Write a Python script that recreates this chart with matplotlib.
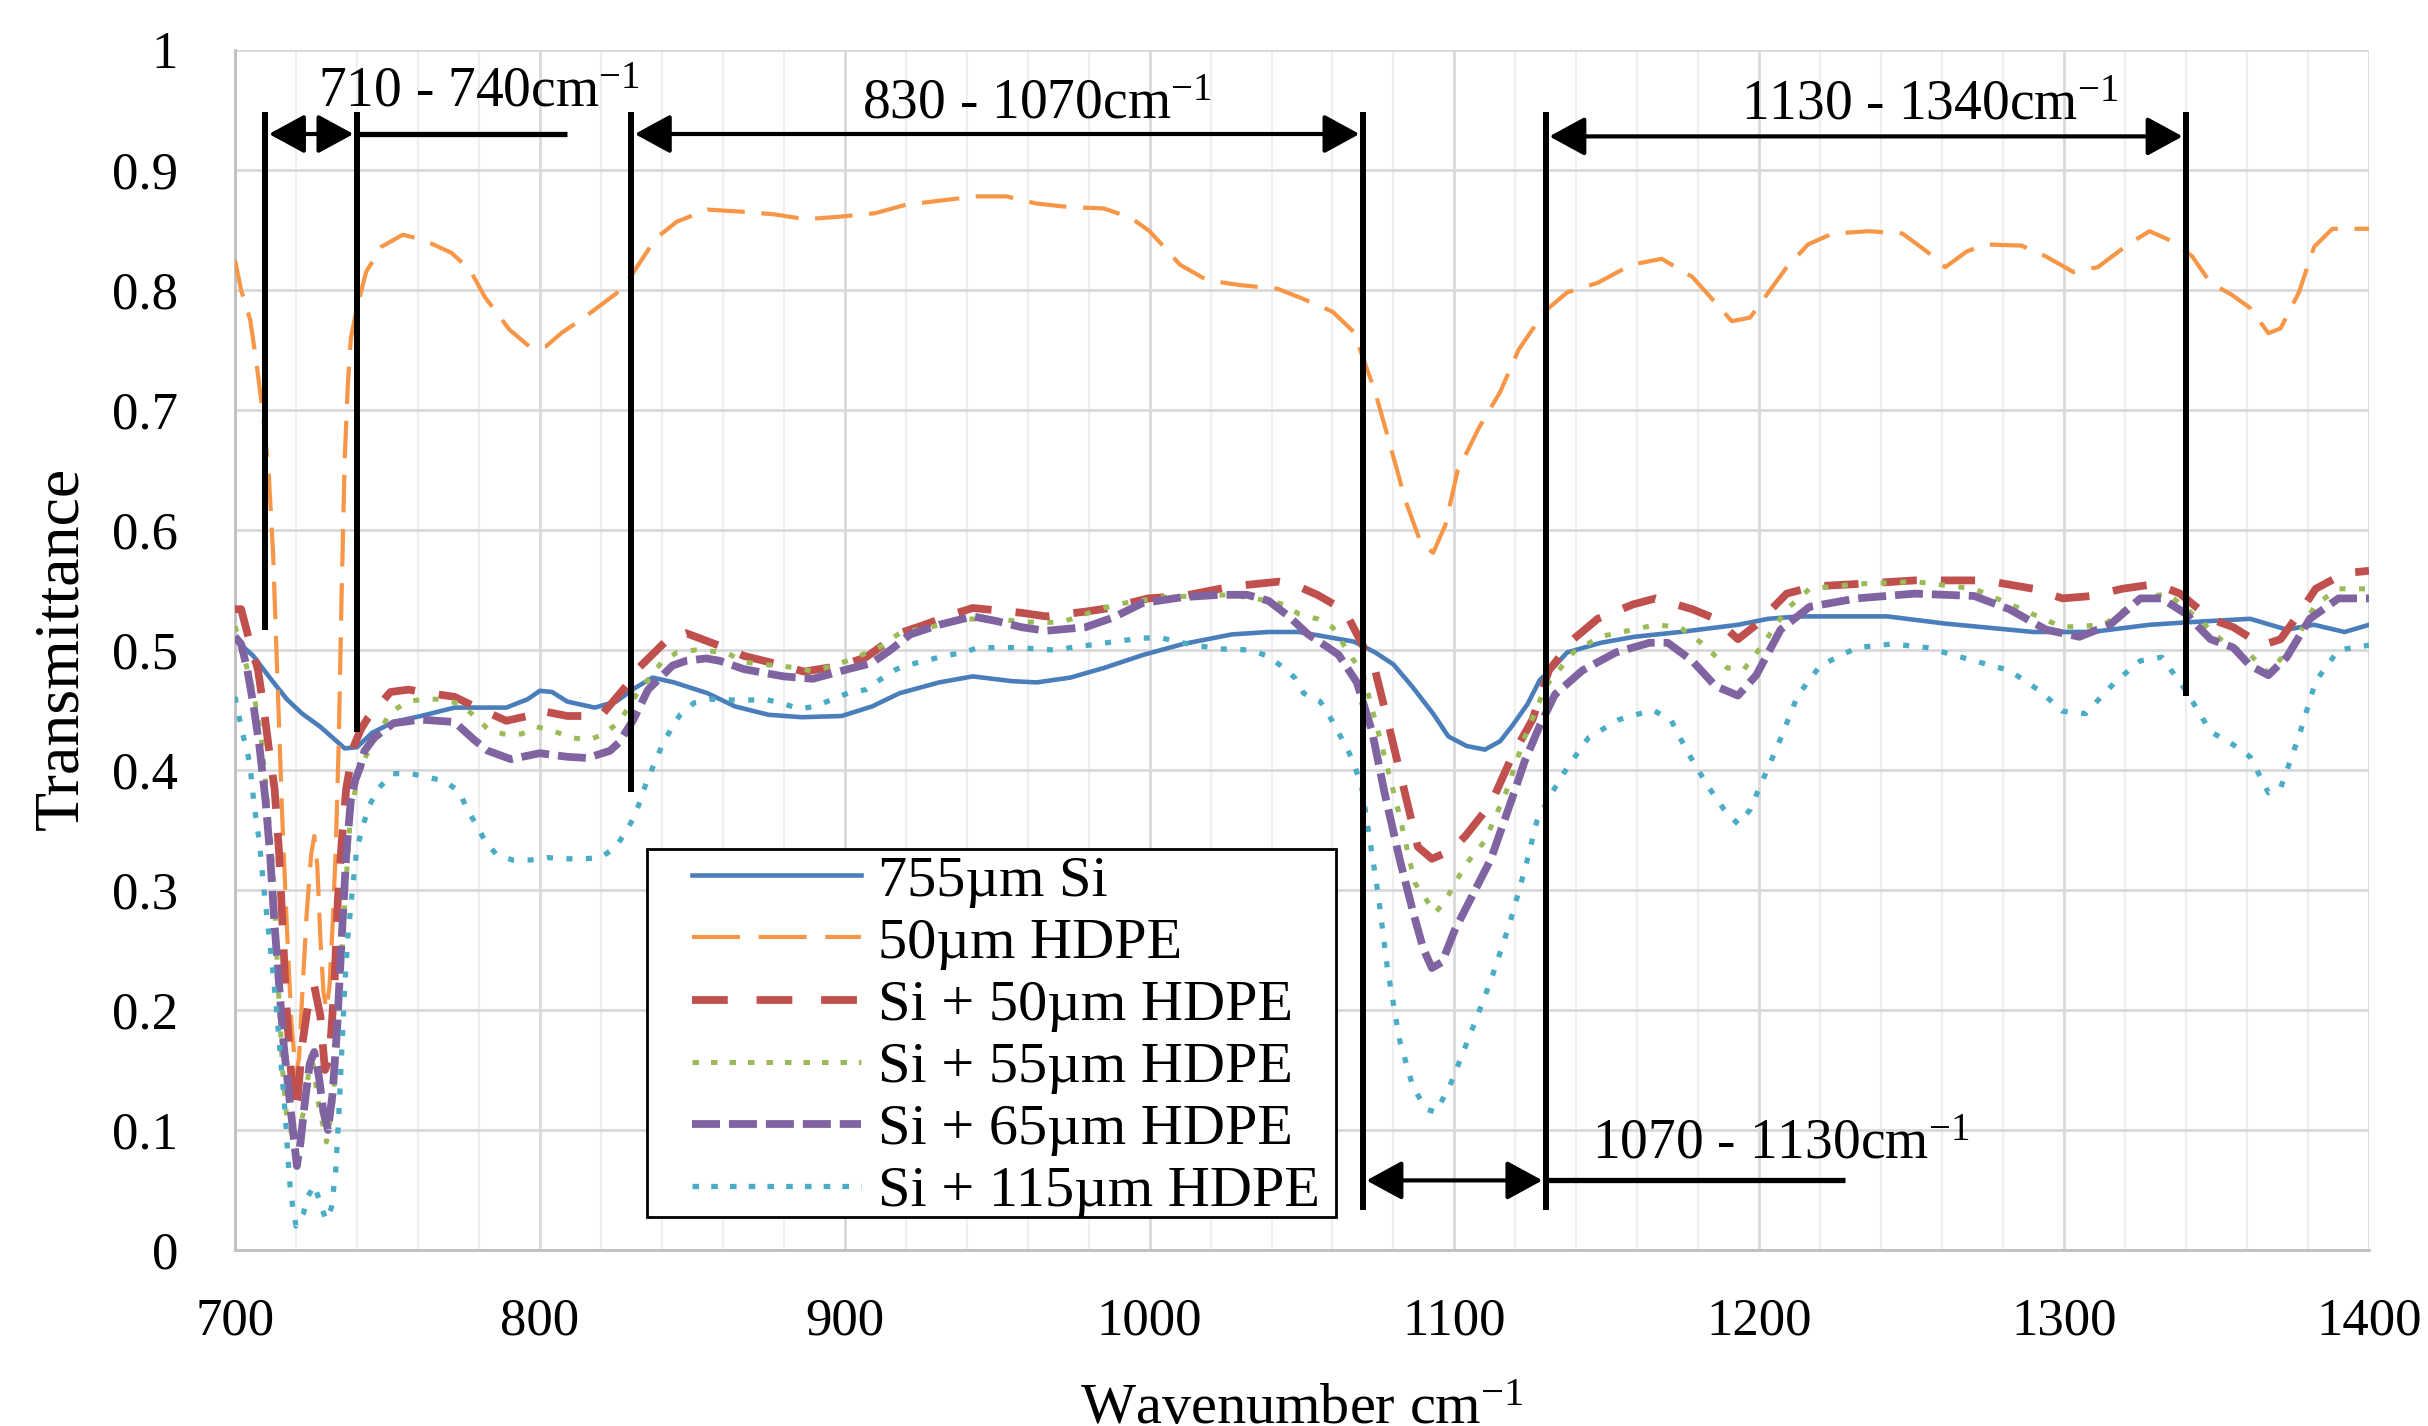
import matplotlib
matplotlib.use("Agg")
import matplotlib.pyplot as plt
from matplotlib.patches import FancyArrowPatch, Rectangle
from matplotlib.lines import Line2D
from matplotlib.ticker import MultipleLocator, FixedLocator

plt.rcParams['font.family'] = ['Liberation Serif', 'DejaVu Serif']
plt.rcParams['mathtext.fontset'] = 'custom'
plt.rcParams['mathtext.rm'] = 'Liberation Serif'
plt.rcParams['mathtext.it'] = 'Liberation Serif:italic'
plt.rcParams['mathtext.bf'] = 'Liberation Serif:bold'

# ---------------- data ----------------
labels = ['755\u00b5m Si', '50\u00b5m HDPE', 'Si + 50\u00b5m HDPE',
          'Si + 55\u00b5m HDPE', 'Si + 65\u00b5m HDPE', 'Si + 115\u00b5m HDPE']

si755_x = [700, 706, 712, 717, 722, 728, 736, 740, 745, 752, 761, 772, 789, 796, 800, 804, 809, 818, 825, 831,
           837, 844, 855, 864, 875, 886, 899, 909, 918, 931, 942, 955, 963, 974, 985, 998, 1011, 1027, 1039, 1049,
           1058, 1067, 1074, 1080, 1086, 1093, 1098, 1104, 1110, 1115, 1119, 1124, 1128, 1133, 1137, 1148, 1159,
           1174, 1193, 1203, 1213, 1242, 1261, 1290, 1309, 1328, 1340, 1361, 1373, 1382, 1392, 1400]
si755_y = [0.509, 0.495, 0.475, 0.459, 0.447, 0.436, 0.418, 0.419, 0.431, 0.440, 0.445, 0.452, 0.452, 0.459,
           0.466, 0.465, 0.457, 0.452, 0.457, 0.468, 0.477, 0.473, 0.464, 0.453, 0.446, 0.444, 0.445, 0.453,
           0.464, 0.473, 0.478, 0.474, 0.473, 0.477, 0.485, 0.496, 0.505, 0.513, 0.515, 0.515, 0.511, 0.507,
           0.498, 0.488, 0.470, 0.447, 0.428, 0.420, 0.417, 0.424, 0.437, 0.455, 0.475, 0.487, 0.498, 0.506,
           0.511, 0.515, 0.521, 0.526, 0.528, 0.528, 0.522, 0.515, 0.515, 0.521, 0.523, 0.526, 0.517, 0.521,
           0.515, 0.521]

hdpe50_x = [700, 702, 705, 707, 709, 711, 712.5, 714, 715.5, 717, 718.5, 720, 721, 722, 723.5, 725, 726, 727,
            728, 729, 730, 731, 732, 733, 734, 735, 736, 737, 738, 740, 743, 748, 755, 760, 765, 771, 777, 782,
            790, 797, 802, 807, 815, 825, 830, 838, 845, 855, 868, 877, 887, 898, 910, 920, 933, 943, 953, 963,
            974, 985, 994, 1000, 1004, 1010, 1019, 1030, 1042, 1050, 1060, 1067, 1074, 1079, 1084, 1089, 1093,
            1097, 1101, 1108, 1115, 1121, 1125, 1130, 1137, 1147, 1158, 1168, 1178, 1184, 1191, 1197, 1203, 1209,
            1216, 1224, 1236, 1247, 1255, 1261, 1268, 1274, 1286, 1294, 1303, 1311, 1321, 1328, 1336, 1342, 1348,
            1355, 1361, 1367, 1371, 1377, 1382, 1388, 1400]
hdpe50_y = [0.825, 0.80, 0.775, 0.74, 0.70, 0.65, 0.58, 0.47, 0.36, 0.27, 0.19, 0.145, 0.16, 0.21, 0.28, 0.33,
            0.345, 0.32, 0.26, 0.215, 0.20, 0.22, 0.27, 0.33, 0.42, 0.55, 0.66, 0.72, 0.76, 0.785, 0.815, 0.836,
            0.846, 0.843, 0.838, 0.831, 0.817, 0.794, 0.767, 0.752, 0.753, 0.764, 0.778, 0.797, 0.812, 0.843,
            0.857, 0.867, 0.865, 0.863, 0.859, 0.861, 0.864, 0.871, 0.875, 0.878, 0.878, 0.872, 0.869, 0.868,
            0.860, 0.849, 0.838, 0.821, 0.808, 0.804, 0.801, 0.793, 0.782, 0.765, 0.715, 0.670, 0.624, 0.589,
            0.581, 0.604, 0.649, 0.685, 0.715, 0.750, 0.765, 0.783, 0.798, 0.806, 0.821, 0.826, 0.811, 0.794,
            0.774, 0.777, 0.798, 0.819, 0.838, 0.847, 0.849, 0.847, 0.832, 0.819, 0.832, 0.838, 0.837, 0.828,
            0.815, 0.819, 0.838, 0.849, 0.840, 0.828, 0.806, 0.796, 0.785, 0.764, 0.768, 0.798, 0.836, 0.851,
            0.851]

si_hdpe50_x = [700, 702, 705, 707.5, 709.5, 711, 713, 714.5, 715.6, 716.7, 718, 719.5, 720.5, 722, 724, 726,
               728, 729.5, 731, 732.6, 733.7, 735, 736.5, 739, 741.3, 743.5, 751, 757, 761, 772, 778.5, 789, 796,
               799, 809, 820, 829, 832, 842, 848, 862.6, 867, 880, 886.5, 899, 907, 918, 925, 937, 942, 958, 966,
               979, 987, 999.5, 1011, 1023, 1027, 1042.5, 1047, 1055, 1064, 1069.5, 1074, 1078, 1082.7, 1088,
               1092.6, 1099, 1103.6, 1112, 1119, 1125.6, 1131, 1139, 1147, 1158.6, 1166, 1178, 1185.6, 1193, 1199,
               1209, 1218, 1232, 1251, 1274, 1290, 1299.5, 1309, 1319, 1330, 1338, 1348, 1355.5, 1365, 1371, 1377,
               1382.5, 1392, 1400]
si_hdpe50_y = [0.534, 0.534, 0.505, 0.484, 0.450, 0.420, 0.384, 0.330, 0.270, 0.210, 0.160, 0.115, 0.125,
               0.170, 0.205, 0.220, 0.195, 0.150, 0.160, 0.220, 0.290, 0.340, 0.385, 0.420, 0.434, 0.443, 0.465,
               0.467, 0.465, 0.461, 0.453, 0.441, 0.445, 0.450, 0.445, 0.445, 0.472, 0.484, 0.509, 0.514, 0.500,
               0.495, 0.487, 0.482, 0.487, 0.494, 0.514, 0.520, 0.531, 0.535, 0.531, 0.528, 0.532, 0.535, 0.543,
               0.545, 0.551, 0.553, 0.557, 0.555, 0.546, 0.533, 0.506, 0.483, 0.442, 0.392, 0.336, 0.326, 0.333,
               0.345, 0.372, 0.412, 0.442, 0.483, 0.509, 0.526, 0.538, 0.543, 0.534, 0.526, 0.509, 0.521, 0.547,
               0.553, 0.555, 0.558, 0.558, 0.551, 0.543, 0.545, 0.551, 0.555, 0.547, 0.526, 0.519, 0.504, 0.509,
               0.530, 0.551, 0.564, 0.566]

si_hdpe55_x = [700, 703.5, 706, 708.5, 710, 711.8, 713, 714, 715.6, 717, 719.5, 721, 722.5, 725, 727.5, 730,
               732, 733.8, 735, 736.5, 738, 741, 745.7, 751, 756.6, 762, 767.5, 774, 778.5, 783, 788, 794, 799,
               805, 810, 816, 821, 826, 832, 840, 845, 851, 861, 867, 873.5, 885, 889.6, 896, 902, 912, 918, 928,
               939, 952, 963, 971, 979, 985, 991.5, 1004, 1015, 1026.6, 1039, 1044, 1049, 1055, 1060, 1066, 1070,
               1076, 1082, 1087, 1093.7, 1097, 1103.6, 1110, 1117, 1123, 1130, 1139, 1147.6, 1158.6, 1166, 1174,
               1182, 1189.5, 1195, 1201, 1209, 1216.5, 1232, 1251, 1270.5, 1286, 1299.5, 1313, 1325, 1334, 1344,
               1353.5, 1361, 1367, 1375, 1382.5, 1390, 1400]
si_hdpe55_y = [0.520, 0.489, 0.465, 0.430, 0.390, 0.339, 0.290, 0.230, 0.150, 0.110, 0.090, 0.100, 0.115,
               0.165, 0.120, 0.090, 0.120, 0.180, 0.245, 0.310, 0.366, 0.402, 0.425, 0.448, 0.457, 0.459, 0.459,
               0.455, 0.445, 0.434, 0.430, 0.430, 0.436, 0.432, 0.427, 0.425, 0.430, 0.440, 0.464, 0.490, 0.498,
               0.500, 0.498, 0.490, 0.488, 0.485, 0.482, 0.487, 0.492, 0.503, 0.514, 0.519, 0.526, 0.525, 0.523,
               0.523, 0.530, 0.535, 0.539, 0.544, 0.545, 0.546, 0.541, 0.538, 0.530, 0.526, 0.519, 0.495, 0.480,
               0.422, 0.362, 0.306, 0.281, 0.291, 0.321, 0.341, 0.382, 0.427, 0.470, 0.498, 0.511, 0.517, 0.521,
               0.519, 0.504, 0.485, 0.484, 0.504, 0.534, 0.551, 0.555, 0.557, 0.551, 0.534, 0.519, 0.521, 0.543,
               0.547, 0.526, 0.504, 0.496, 0.481, 0.504, 0.538, 0.551, 0.551]

si_hdpe65_x = [700, 702, 704, 706, 708, 710, 711.5, 713, 714.5, 716, 717.5, 719, 720.3, 721.5, 723, 724.5, 726,
               727.5, 729, 730.5, 732, 733.5, 735, 736.5, 738, 739.5, 741, 742.5, 745.7, 752, 761, 772, 778.5, 783,
               790.5, 800, 809, 815.6, 823, 826, 830.7, 835.5, 843.5, 848, 854.6, 859, 867, 880, 889.6, 901, 908.8,
               915, 921.5, 931, 942, 950, 958, 966, 979, 988, 997.6, 1010.7, 1023, 1032, 1039, 1045.7, 1052, 1058,
               1062, 1068, 1073, 1077, 1082, 1086.5, 1089.8, 1092.6, 1096, 1100, 1106, 1112, 1119, 1123, 1128,
               1133, 1142, 1153, 1164, 1170, 1178, 1185.6, 1193, 1199, 1207, 1216.5, 1232, 1251, 1270.5, 1282,
               1294, 1305, 1315, 1325, 1332, 1340, 1348, 1355.5, 1361, 1367, 1373, 1380.6, 1390, 1400]
si_hdpe65_y = [0.511, 0.505, 0.484, 0.455, 0.420, 0.375, 0.330, 0.270, 0.220, 0.170, 0.135, 0.100, 0.070,
               0.090, 0.125, 0.155, 0.165, 0.145, 0.115, 0.100, 0.130, 0.185, 0.260, 0.330, 0.375, 0.392, 0.402,
               0.416, 0.427, 0.439, 0.442, 0.440, 0.425, 0.416, 0.409, 0.414, 0.411, 0.410, 0.416, 0.423, 0.442,
               0.467, 0.487, 0.491, 0.493, 0.491, 0.484, 0.478, 0.476, 0.484, 0.489, 0.500, 0.513, 0.521, 0.528,
               0.524, 0.519, 0.516, 0.519, 0.527, 0.539, 0.544, 0.546, 0.546, 0.541, 0.528, 0.513, 0.503, 0.496,
               0.473, 0.432, 0.382, 0.326, 0.281, 0.251, 0.235, 0.240, 0.266, 0.296, 0.326, 0.377, 0.407, 0.437,
               0.463, 0.483, 0.498, 0.506, 0.506, 0.491, 0.470, 0.462, 0.479, 0.517, 0.536, 0.543, 0.547, 0.545,
               0.534, 0.517, 0.511, 0.521, 0.543, 0.543, 0.530, 0.509, 0.502, 0.487, 0.479, 0.494, 0.526, 0.543,
               0.543]

si_hdpe115_x = [700, 702.5, 704, 705, 706.3, 708, 709.5, 711, 712.3, 713.5, 714.5, 715.5, 716.5, 717.3, 718.2,
                719, 720, 722.5, 724, 726, 728, 729.8, 731.6, 733, 734, 735, 736, 737, 738.5, 740, 742.4, 744,
                746.8, 751.7, 757.7, 763, 768.6, 773.6, 776, 779, 782, 785.6, 791, 797, 802.5, 808, 814.5, 820,
                825, 828, 831, 833, 835, 837.5, 840, 843, 846, 850.6, 856, 867, 873.7, 879, 885, 890.4, 896, 901,
                907, 912, 917, 921.5, 928, 932.6, 939, 943.8, 956.5, 968.5, 980, 991.6, 998, 1004, 1010.7, 1022,
                1033, 1038.7, 1043, 1047.6, 1050.5, 1056, 1059, 1062, 1065, 1067, 1069.5, 1072, 1075, 1078, 1082,
                1086.5, 1091, 1094, 1099, 1106, 1112, 1118, 1123, 1127, 1131, 1137, 1144, 1154, 1165, 1171, 1176,
                1183, 1188.5, 1193, 1197, 1200, 1206, 1212.6, 1220, 1232, 1243.5, 1255, 1270.5, 1282, 1292, 1299.5,
                1307, 1317, 1325, 1332, 1340, 1348, 1355.5, 1361, 1367, 1371, 1377, 1382.5, 1390, 1400]
si_hdpe115_y = [0.461, 0.430, 0.416, 0.402, 0.370, 0.340, 0.300, 0.266, 0.235, 0.204, 0.174, 0.143, 0.113,
                0.079, 0.049, 0.035, 0.020, 0.031, 0.045, 0.054, 0.039, 0.025, 0.035, 0.065, 0.110, 0.165, 0.220,
                0.260, 0.300, 0.335, 0.357, 0.370, 0.384, 0.397, 0.397, 0.394, 0.391, 0.382, 0.368, 0.355, 0.341,
                0.330, 0.325, 0.325, 0.327, 0.326, 0.326, 0.327, 0.336, 0.348, 0.361, 0.375, 0.390, 0.405, 0.420,
                0.434, 0.446, 0.456, 0.459, 0.458, 0.459, 0.456, 0.451, 0.453, 0.459, 0.464, 0.467, 0.476, 0.484,
                0.488, 0.492, 0.495, 0.498, 0.502, 0.502, 0.500, 0.504, 0.508, 0.510, 0.510, 0.506, 0.501, 0.500,
                0.495, 0.487, 0.477, 0.464, 0.457, 0.445, 0.431, 0.417, 0.405, 0.387, 0.346, 0.296, 0.235, 0.175,
                0.135, 0.117, 0.115, 0.140, 0.185, 0.225, 0.271, 0.316, 0.357, 0.377, 0.402, 0.427, 0.442, 0.450,
                0.442, 0.417, 0.387, 0.367, 0.355, 0.367, 0.385, 0.420, 0.462, 0.487, 0.502, 0.505, 0.502, 0.491,
                0.483, 0.466, 0.449, 0.447, 0.474, 0.491, 0.494, 0.466, 0.432, 0.421, 0.411, 0.381, 0.385, 0.428,
                0.474, 0.500, 0.504]

# annotation data (band limits in cm^-1)
band_lines_x = [710, 740, 830, 1070, 1130, 1340]
band_lines_bottom = [0.517, 0.432, 0.382, 0.033, 0.033, 0.462]
band_lines_top = 0.948
arrow_ranges = [(710, 740, 0.930), (830, 1070, 0.930), (1130, 1340, 0.928), (1070, 1130, 0.058)]
leader_ranges = [(740, 809, 0.930), (1130, 1228, 0.058)]
band_texts = ['710 - 740cm$^{-1}$', '830 - 1070cm$^{-1}$', '1130 - 1340cm$^{-1}$', '1070 - 1130cm$^{-1}$']
band_text_x = [780, 963, 1256, 1207]
band_text_y = [0.953, 0.943, 0.9425, 0.0765]

xticks = [700, 800, 900, 1000, 1100, 1200, 1300, 1400]
yticks = [0, 0.1, 0.2, 0.3, 0.4, 0.5, 0.6, 0.7, 0.8, 0.9, 1]
ytick_labels = ['0', '0.1', '0.2', '0.3', '0.4', '0.5', '0.6', '0.7', '0.8', '0.9', '1']

# ---------------- figure ----------------
W, H, DPI = 2428, 1426, 100
fig = plt.figure(figsize=(W / DPI, H / DPI), dpi=DPI)
ax_l, ax_r, ax_t, ax_b = 235, 2369, 50, 1250
ax = fig.add_axes([ax_l / W, 1 - ax_b / H, (ax_r - ax_l) / W, (ax_b - ax_t) / H])

colors = ['#4A7EBB', '#F79646', '#C0504D', '#9BBB59', '#8064A2', '#4BACC6']
widths = [3.3, 3.0, 5.6, 3.6, 5.6, 3.8]
plot_dashes = [None, (9.0, 4.0), (4.4, 3.1), (1.2, 2.7), (3.6, 1.15), (1.15, 2.55)]
legend_dashes = [None, (11.5, 4.5), (4.6, 3.7), (1.3, 2.4), (3.6, 1.15), (1.25, 2.3)]
series_x = [si755_x, hdpe50_x, si_hdpe50_x, si_hdpe55_x, si_hdpe65_x, si_hdpe115_x]
series_y = [si755_y, hdpe50_y, si_hdpe50_y, si_hdpe55_y, si_hdpe65_y, si_hdpe115_y]

handles = []
for xs, ys, c, w, d, ld, lab in zip(series_x, series_y, colors, widths, plot_dashes, legend_dashes, labels):
    kw = dict(color=c, lw=w, solid_joinstyle='round', dash_joinstyle='round', dash_capstyle='butt')
    if d is None:
        ax.plot(xs, ys, ls='-', zorder=3, **kw)
        handles.append(Line2D([], [], ls='-', **kw))
    else:
        ax.plot(xs, ys, dashes=d, zorder=3, **kw)
        handles.append(Line2D([], [], dashes=ld, **kw))

ax.set_xlim(700, 1400)
ax.set_ylim(0, 1)
ax.xaxis.set_major_locator(FixedLocator(xticks))
ax.xaxis.set_minor_locator(MultipleLocator(20))
ax.yaxis.set_major_locator(FixedLocator(yticks))
ax.set_yticklabels(ytick_labels)
ax.set_axisbelow(True)
ax.grid(which='major', color='#d9d9d9', lw=2.0)
ax.grid(which='minor', axis='x', color='#efefef', lw=1.6)
for s in ['top', 'right']:
    ax.spines[s].set_visible(False)
for s in ['left', 'bottom']:
    ax.spines[s].set_color('#bfbfbf')
    ax.spines[s].set_linewidth(2.0)
ax.tick_params(axis='both', which='both', length=0, labelsize=38)
ax.tick_params(axis='x', pad=34)
ax.tick_params(axis='y', pad=41)

# band annotation lines
for bx, bb in zip(band_lines_x, band_lines_bottom):
    ax.plot([bx, bx], [bb, band_lines_top], color='black', lw=4.3, solid_capstyle='butt', zorder=5)
for x0, x1, yy in leader_ranges:
    ax.plot([x0, x1], [yy, yy], color='black', lw=3.8, solid_capstyle='butt', zorder=5)
for x0, x1, yy in arrow_ranges:
    arr = FancyArrowPatch((x0, yy), (x1, yy), arrowstyle='<|-|>,head_length=22,head_width=12',
                          mutation_scale=1, shrinkA=2.5, shrinkB=2.5, color='black', lw=3.0, zorder=6)
    ax.add_patch(arr)
for t, tx, ty in zip(band_texts, band_text_x, band_text_y):
    ax.text(tx, ty, t, ha='center', va='baseline', fontsize=40, zorder=7)

# legend (frame drawn separately to match the original padding)
leg_box = (647, 849, 1336, 1217)   # figure pixels: left, top, right, bottom
frame = Rectangle((leg_box[0] / W, 1 - leg_box[3] / H), (leg_box[2] - leg_box[0]) / W,
                  (leg_box[3] - leg_box[1]) / H, transform=fig.transFigure, facecolor='white',
                  edgecolor='black', lw=2.0, zorder=9, clip_on=False)
ax.add_patch(frame)
leg = ax.legend(handles=handles, labels=labels, loc='upper left',
                bbox_to_anchor=(692 / W, 1 - 855 / H), bbox_transform=fig.transFigure, borderaxespad=0,
                fontsize=42, handlelength=2.9, handletextpad=0.29, borderpad=0.0, labelspacing=0.158,
                frameon=False)
leg.set_zorder(10)

# axis titles
fig.text(62 / W, 1 - 648 / H, 'Transmittance', rotation=90, ha='center', va='center', fontsize=46)
fig.text((ax_l + ax_r) / 2 / W, 2 / H, 'Wavenumber cm$^{-1}$', ha='center', va='baseline', fontsize=42)

fig.savefig('out.png', dpi=DPI)
